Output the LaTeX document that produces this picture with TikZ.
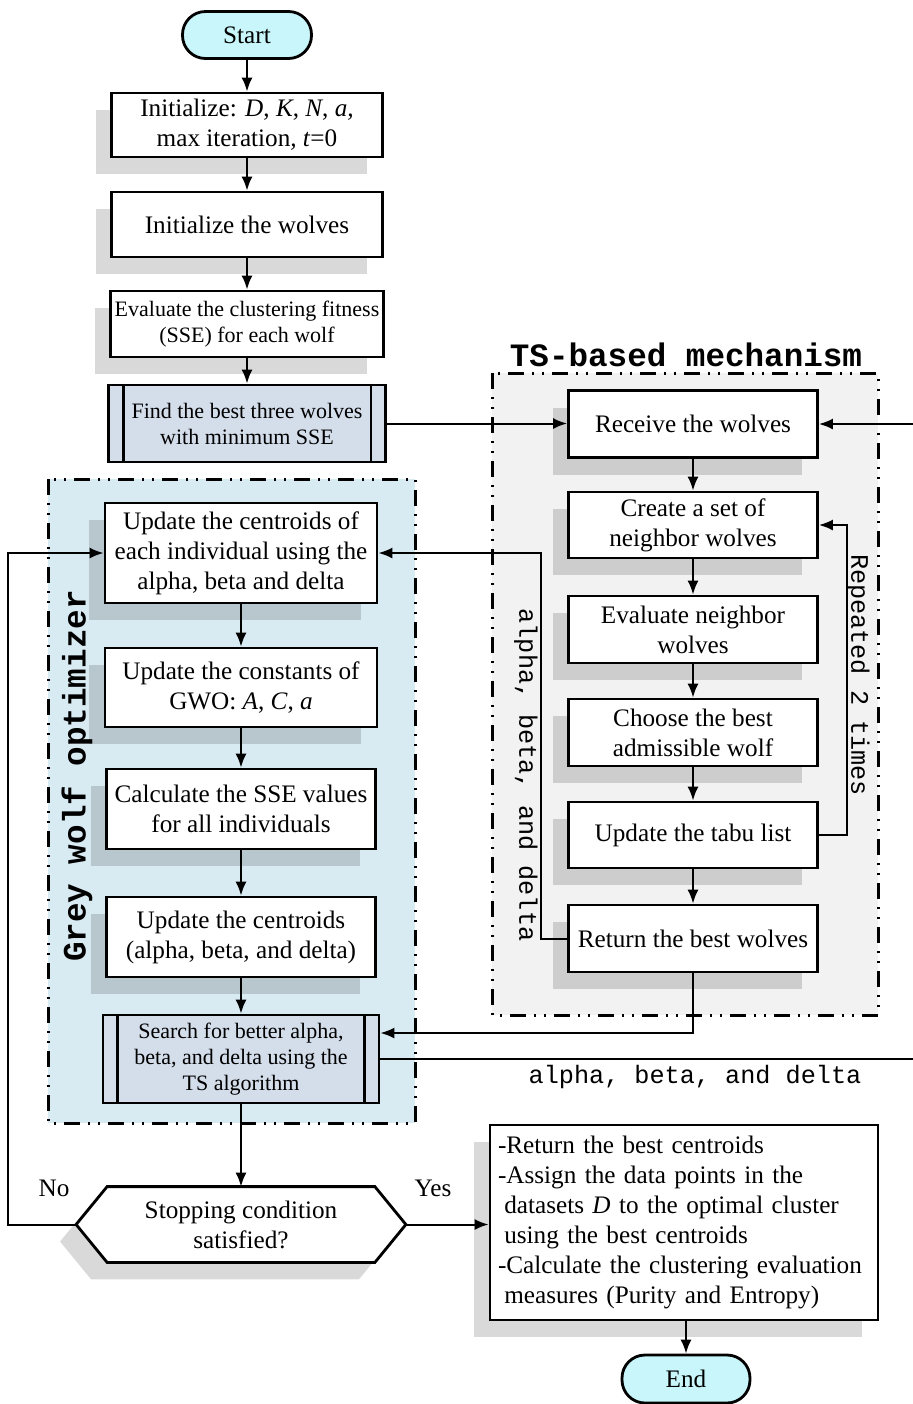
\documentclass[tikz,border=0pt]{standalone}
\usepackage{fontspec}
\setmainfont{Liberation Serif}
\setmonofont{Liberation Mono}
\usetikzlibrary{arrows.meta,shadows,calc}
\definecolor{pillfill}{RGB}{200,246,250}
\definecolor{procfill}{RGB}{212,221,234}
\definecolor{gwofill}{RGB}{216,234,242}
\definecolor{tsfill}{RGB}{242,242,242}
\newcommand{\mainsz}{\fontsize{12.6}{15}\selectfont}
\newcommand{\smallsz}{\fontsize{11}{13}\selectfont}
\newcommand{\monosz}{\fontsize{12.6}{15}\selectfont\ttfamily}
\newcommand{\titlesz}{\fontsize{16.3}{18}\selectfont\ttfamily\bfseries}
\pgfdeclarelayer{frames}
\pgfsetlayers{frames,main}
\begin{document}
\begin{tikzpicture}[x=0.5pt,y=-0.5pt,
  shad/.style={drop shadow={shadow xshift=-8pt, shadow yshift=-8.5pt, fill=black, opacity=0.15}},
  box/.style={draw, line width=1.4pt, fill=white, align=center, inner sep=2pt, font=\mainsz, shad},
  tsbox/.style={box, minimum width=124.5pt, minimum height=33.5pt},
  gwobox/.style={box, minimum width=136pt},
  topbox/.style={box, minimum width=135.5pt, minimum height=32.5pt},
  proc/.style={draw, line width=1.4pt, fill=procfill, align=center, inner sep=2pt, font=\smallsz},
  pill/.style={draw, line width=1.4pt, fill=pillfill, rounded corners=11.5pt, minimum width=64.5pt, minimum height=23.5pt, font=\mainsz},
  arr/.style={-{Latex[length=7pt,width=5.5pt]}, line width=1pt},
  conn/.style={line width=1pt},
  frame/.style={line width=1.5pt, dash pattern=on 8pt off 4pt on 1pt off 4pt on 1pt off 4pt}]
\useasboundingbox (0,0) rectangle (913,1404);

\begin{pgfonlayer}{frames}
\draw[frame, fill=gwofill] (48,479) rectangle (415,1123);
\draw[frame, fill=tsfill] (492,373) rectangle (878,1015);
\end{pgfonlayer}

% left column top
\node[pill] (start) at (247,35) {Start};
\node[topbox, minimum height=32pt] (init) at (247,125) {Initialize: \textit{D}, \textit{K}, \textit{N}, \textit{a,}\\max iteration\textit{,} \textit{t}=0};
\node[topbox] (iw) at (247,224.5) {Initialize the wolves};
\node[topbox, minimum height=33pt, font=\smallsz] (eval) at (247,324) {Evaluate the clustering fitness\\(SSE) for each wolf};
\node[proc, minimum width=138.5pt, minimum height=38.5pt] (find) at (247,423.5) {Find the best three wolves\\with minimum SSE};
\draw[line width=1.4pt] ([xshift=8pt]find.north west) -- ([xshift=8pt]find.south west);
\draw[line width=1.4pt] ([xshift=-8pt]find.north east) -- ([xshift=-8pt]find.south east);

% TS column
\node[font=\titlesz] (tstitle) at (686,355) {TS-based mechanism};
\node[tsbox] (recv) at (693,424) {Receive the wolves};
\node[tsbox, minimum height=33pt] (create) at (693,525) {Create a set of\\neighbor wolves};
\node[tsbox] (evn) at (693,629.5) {Evaluate neighbor\\wolves};
\node[tsbox] (choose) at (693,732.5) {Choose the best\\admissible wolf};
\node[tsbox, minimum height=33pt] (tabu) at (693,835) {Update the tabu list};
\node[tsbox] (ret) at (693,938.5) {Return the best wolves};
\node[font=\monosz, rotate=-90] (rep) at (858,675) {Repeated 2 times};
\node[font=\monosz, rotate=-90] (abd1) at (526,775) {alpha, beta, and delta};

% GWO column
\node[font=\titlesz, rotate=90] (gwotitle) at (77,776) {Grey wolf optimizer};
\node[gwobox, minimum height=50pt] (upd1) at (241,553) {Update the centroids of\\each individual using the\\alpha, beta and delta};
\node[gwobox, minimum height=39.5pt] (const) at (241,687.5) {Update the constants of\\GWO: \textit{A}, \textit{C}, \textit{a}};
\node[gwobox, minimum height=40pt, minimum width=134.5pt] (calc) at (241,809) {Calculate the SSE values\\for all individuals};
\node[gwobox, minimum height=40pt, minimum width=134.5pt] (updc) at (241,937) {Update the centroids\\(alpha, beta, and delta)};
\node[proc, minimum width=138pt, minimum height=44pt] (search) at (241,1059) {Search for better alpha,\\beta, and delta using the\\TS algorithm};
\draw[line width=1.4pt] ([xshift=8pt]search.north west) -- ([xshift=8pt]search.south west);
\draw[line width=1.4pt] ([xshift=-8pt]search.north east) -- ([xshift=-8pt]search.south east);
\node[font=\monosz] (abd2) at (695,1077) {alpha, beta, and delta};

% decision
\node[font=\mainsz, align=center, minimum width=164.5pt, minimum height=37.5pt, inner sep=0pt] (stop) at (241,1224.5) {Stopping condition\\satisfied?};
\begin{pgfonlayer}{frames}
\draw[line width=1.4pt, fill=white, shad] (stop.west) -- ([xshift=15.5pt]stop.north west) -- ([xshift=-15.5pt]stop.north east) -- (stop.east) -- ([xshift=-15.5pt]stop.south east) -- ([xshift=15.5pt]stop.south west) -- cycle;
\end{pgfonlayer}
\node[font=\mainsz] (no) at (54,1188) {No};
\node[font=\mainsz] (yes) at (433,1188) {Yes};

\node[box, align=left, text width=186pt, inner xsep=4pt, minimum height=97.5pt] (final) at (684,1222.5) {-Return the best centroids\\-Assign the data points in the\\\hspace*{0.25em}datasets \textit{D} to the optimal cluster\\\hspace*{0.25em}using the best centroids\\-Calculate the clustering evaluation\\\hspace*{0.25em}measures (Purity and Entropy)};
\node[pill, minimum width=64pt, minimum height=24pt] (end) at (686,1379) {End};

% connectors
\draw[arr] (start) -- (init);
\draw[arr] (init) -- (iw);
\draw[arr] (iw) -- (eval);
\draw[arr] (eval) -- (find);
\draw[arr] (find.east) -- (find.east -| recv.west);
\draw[arr] (recv) -- (create);
\draw[arr] (create) -- (evn);
\draw[arr] (evn) -- (choose);
\draw[arr] (choose) -- (tabu);
\draw[arr] (tabu) -- (ret);
\draw[arr] (tabu.east) -- ++(28,0) |- (create.east);
\draw[arr] (ret.west) -- ++(-26,0) |- (upd1.east);
\draw[arr] (ret.south) |- ([yshift=13pt]search.east);
\coordinate (offr) at (940,1059);
\draw[arr] (search.east) -- (offr) |- (recv.east);
\draw[arr] (upd1) -- (const);
\draw[arr] (const) -- (calc);
\draw[arr] (calc) -- (updc);
\draw[arr] (updc) -- (search);
\draw[arr] (search) -- (stop.north);
\draw[arr] (stop.west) -- ++(-68,0) |- (upd1.west);
\draw[arr] (stop.east) -- (stop.east -| final.west);
\draw[arr] (end.north |- final.south) -- (end.north);
\end{tikzpicture}
\end{document}
